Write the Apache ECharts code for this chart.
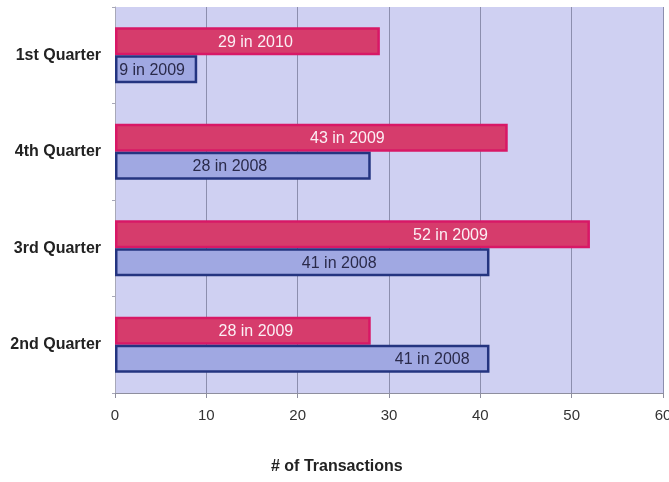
<!DOCTYPE html>
<html><head><meta charset="utf-8">
<script src="https://cdn.jsdelivr.net/npm/echarts@6/dist/echarts.min.js"></script>
<style>html,body{margin:0;padding:0;background:#fff}#c{width:669px;height:482px}</style>
</head><body><div id="c"></div>
<script>
var categories = ['2nd Quarter', '3rd Quarter', '4th Quarter', '1st Quarter'];
var laterValues = [28, 52, 43, 29];
var laterLabels = ['28 in 2009', '52 in 2009', '43 in 2009', '29 in 2010'];
var earlierValues = [41, 41, 28, 9];
var earlierLabels = ['41 in 2008', '41 in 2008', '28 in 2008', '9 in 2009'];
var xTicks = [0, 10, 20, 30, 40, 50, 60];
var axisTitle = '# of Transactions';

var laterOffsets = [13, 98, 36, 8];
var earlierOffsets = [130, 37, -13, -4];

var FONT = 'Liberation Sans';
var chart = echarts.init(document.getElementById('c'));
function mk(values, labels, offsets) {
  return values.map(function (v, i) {
    return { value: v, label: { formatter: labels[i], offset: [offsets[i], 1] } };
  });
}
chart.setOption({
  animation: false,
  textStyle: { fontFamily: FONT },
  grid: { left: 115, right: 6, top: 7, bottom: 89, show: true, backgroundColor: '#CFD0F2', borderWidth: 0,
          containLabel: false, outerBoundsMode: 'none' },
  xAxis: {
    type: 'value', min: xTicks[0], max: xTicks[xTicks.length - 1], interval: 10,
    axisLine: { show: true, lineStyle: { color: '#8E8E9E' } },
    axisTick: { show: true, length: 5, lineStyle: { color: '#8E8E9E' } },
    axisLabel: { color: '#333', fontSize: 15, fontFamily: FONT, margin: 15 },
    splitLine: { show: true, lineStyle: { color: '#8C8EAE', width: 1 } }
  },
  yAxis: {
    type: 'category', data: categories,
    axisLine: { show: true, lineStyle: { color: '#A8A8B8' } },
    axisTick: { show: true, length: 3, lineStyle: { color: '#A8A8B8' } },
    axisLabel: { color: '#222', fontSize: 16, fontWeight: 'bold', fontFamily: FONT, margin: 14 }
  },
  graphic: [{
    type: 'text', left: 271, top: 459,
    style: { text: axisTitle, fill: '#222', font: 'bold 16px "Liberation Sans"' }
  }],
  series: [
    {
      type: 'bar', name: 'later', data: mk(laterValues, laterLabels, laterOffsets),
      barWidth: 28, barGap: '0%', barCategoryGap: '40%',
      itemStyle: { color: '#D63C6C', borderColor: '#D81866', borderWidth: 2.5 },
      label: { show: true, position: 'inside', color: '#FBEFF4', fontSize: 16, fontFamily: FONT }
    },
    {
      type: 'bar', name: 'earlier', data: mk(earlierValues, earlierLabels, earlierOffsets),
      barWidth: 28, barGap: '0%', barCategoryGap: '40%',
      itemStyle: { color: '#A0A8E2', borderColor: '#243480', borderWidth: 2.5 },
      label: { show: true, position: 'inside', color: '#2A2A4A', fontSize: 16, fontFamily: FONT }
    }
  ]
});
</script></body></html>
